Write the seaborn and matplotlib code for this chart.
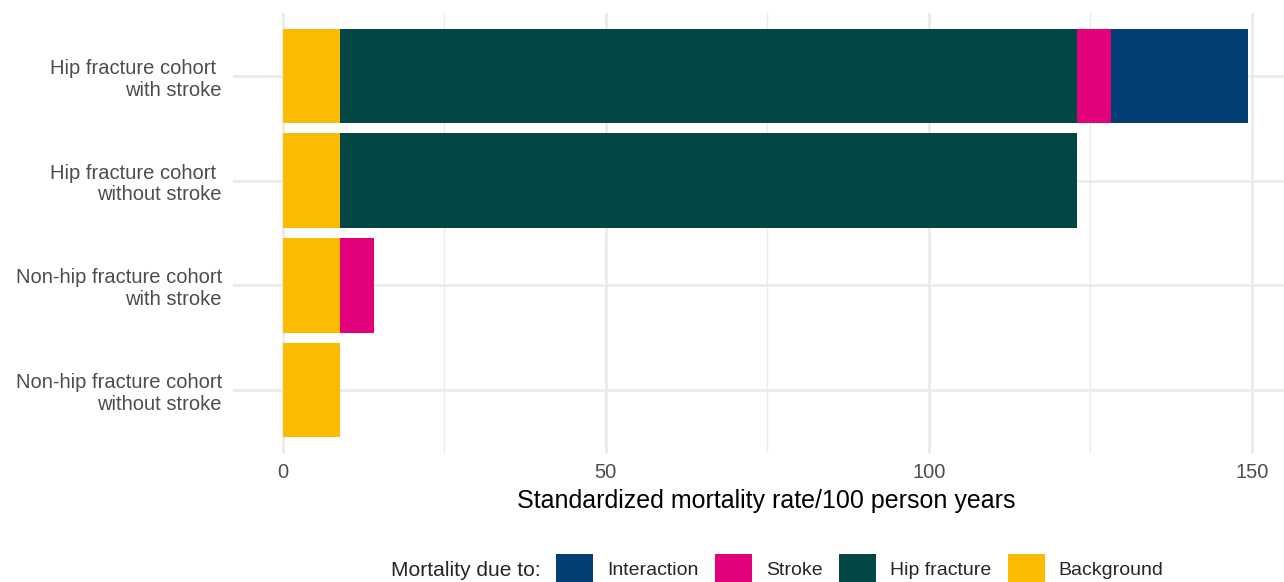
"""Stacked mortality bars - hip fracture / stroke cohorts"""
import numpy as np
import pandas as pd
import matplotlib
matplotlib.use('Agg')
import matplotlib.pyplot as plt
import seaborn as sns
from matplotlib.patches import Patch

cohorts = [
    'Hip fracture cohort \nwith stroke',
    'Hip fracture cohort \nwithout stroke',
    'Non-hip fracture cohort\nwith stroke',
    'Non-hip fracture cohort\nwithout stroke',
]
background = [8.8, 8.8, 8.8, 8.8]
hip_fracture = [114.1, 114.1, 0.0, 0.0]
stroke = [5.3, 0.0, 5.4, 0.0]
interaction = [21.3, 0.0, 0.0, 0.0]

components = ['Background', 'Hip fracture', 'Stroke', 'Interaction']
legend_order = ['Interaction', 'Stroke', 'Hip fracture', 'Background']
colors = {
    'Interaction': '#023E73',
    'Stroke': '#E3007B',
    'Hip fracture': '#024744',
    'Background': '#FABB00',
}

sns.set_theme(style='whitegrid')
plt.rcParams['font.family'] = ['Liberation Sans', 'DejaVu Sans']

df = pd.DataFrame({
    'cohort': cohorts,
    'Background': background,
    'Hip fracture': hip_fracture,
    'Stroke': stroke,
    'Interaction': interaction,
})
cum = df[components].cumsum(axis=1)

fig = plt.figure(figsize=(12.84, 5.82), dpi=100)
ax = fig.add_axes([233 / 1284, 1 - 453 / 582, 1 - 233 / 1284, 440 / 582])

# widest layer first, shorter ones on top -> stacked look
for comp in reversed(components):
    sns.barplot(x=cum[comp], y=df['cohort'], color=colors[comp], orient='h',
                width=0.9, saturation=1, linewidth=0, edgecolor='none',
                ax=ax, order=cohorts)

ax.set_xlim(-7.7, 155.0)
ax.set_ylim(3.6, -0.6)
ax.set_xticks([0, 50, 100, 150])
ax.set_xticks([25, 75, 125], minor=True)
ax.grid(True, which='major', color='#EBEBEB', linewidth=2)
ax.grid(True, which='minor', axis='x', color='#EBEBEB', linewidth=1)
ax.set_axisbelow(True)
for s in ax.spines.values():
    s.set_visible(False)
ax.tick_params(axis='both', which='both', length=0, labelsize=14.5, labelcolor='#4D4D4D')
ax.tick_params(axis='y', pad=8)
ax.tick_params(axis='x', pad=7)
for t in ax.get_yticklabels():
    t.set_linespacing(1.18)
ax.set_ylabel('')
ax.set_xlabel('Standardized mortality rate/100 person years', fontsize=18,
              color='black', labelpad=5)
ax.xaxis.label.set_x(0.507)

handles = [Patch(facecolor=colors[c], edgecolor='none') for c in legend_order]
fig.text(541 / 1284, 1 - 571 / 582, 'Mortality due to:', fontsize=15.1,
         ha='right', va='center')
fig.legend(handles, legend_order,
           loc='center left', bbox_to_anchor=(556 / 1284, 1 - 569 / 582), ncol=4,
           frameon=False, fontsize=14, handlelength=1.9, handleheight=2.0,
           handletextpad=0.72, columnspacing=0.85, borderpad=0, borderaxespad=0)

fig.savefig('out.png', dpi=100)
plt.close(fig)
